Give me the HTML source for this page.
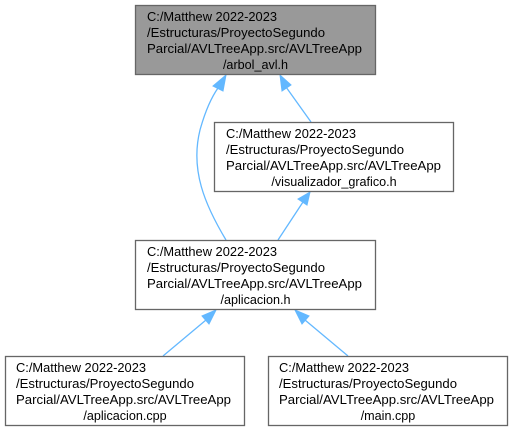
<!DOCTYPE html>
<html><head><meta charset="utf-8"><style>
html,body{margin:0;padding:0;background:#fff;}
svg{display:block;}
text{font-family:"Liberation Sans",Arial,sans-serif;font-size:12.6px;fill:#000;}
</style></head><body>
<svg width="512" height="432" viewBox="0 0 512 432" xmlns="http://www.w3.org/2000/svg">
<g fill="none" stroke="#63b8ff" stroke-width="1.3">
<path d="M226,240 C205,205 190,170 200,130 C205,112 211,98 218,88"/>
<path d="M311,122 L286,87"/>
<path d="M278,240 L303,202"/>
<path d="M163,356 L206,320"/>
<path d="M348,356 L305,320"/>
</g>
<g fill="#63b8ff" stroke="#63b8ff">
<polygon points="226,75 213,86 223,91"/>
<polygon points="280,75 282,91 291,85"/>
<polygon points="310,192 298,199 307,205"/>
<polygon points="216,310 202,316 209,324"/>
<polygon points="295,310 302,324 309,316"/>
</g>
<g stroke="#666" stroke-width="1.3">
<rect x="135.5" y="5.5" width="240" height="69" fill="#999"/>
<rect x="214.5" y="122.5" width="239" height="69" fill="#fff"/>
<rect x="135.5" y="240.5" width="240" height="69" fill="#fff"/>
<rect x="5.5" y="356.5" width="239" height="69" fill="#fff"/>
<rect x="268.5" y="356.5" width="239" height="69" fill="#fff"/>
</g>
<g lengthAdjust="spacingAndGlyphs">
<text x="147" y="21" textLength="130" lengthAdjust="spacingAndGlyphs">C:/Matthew 2022-2023</text>
<text x="147" y="37" textLength="178" lengthAdjust="spacingAndGlyphs">/Estructuras/ProyectoSegundo</text>
<text x="147" y="53" textLength="215" lengthAdjust="spacingAndGlyphs">Parcial/AVLTreeApp.src/AVLTreeApp</text>
<text x="255.5" y="69" text-anchor="middle">/arbol_avl.h</text>

<text x="226" y="138" textLength="130" lengthAdjust="spacingAndGlyphs">C:/Matthew 2022-2023</text>
<text x="226" y="154" textLength="178" lengthAdjust="spacingAndGlyphs">/Estructuras/ProyectoSegundo</text>
<text x="226" y="170" textLength="215" lengthAdjust="spacingAndGlyphs">Parcial/AVLTreeApp.src/AVLTreeApp</text>
<text x="334" y="186" text-anchor="middle">/visualizador_grafico.h</text>

<text x="147" y="256" textLength="130" lengthAdjust="spacingAndGlyphs">C:/Matthew 2022-2023</text>
<text x="147" y="272" textLength="178" lengthAdjust="spacingAndGlyphs">/Estructuras/ProyectoSegundo</text>
<text x="147" y="288" textLength="215" lengthAdjust="spacingAndGlyphs">Parcial/AVLTreeApp.src/AVLTreeApp</text>
<text x="255.5" y="304" text-anchor="middle">/aplicacion.h</text>

<text x="16" y="372" textLength="130" lengthAdjust="spacingAndGlyphs">C:/Matthew 2022-2023</text>
<text x="16" y="388" textLength="178" lengthAdjust="spacingAndGlyphs">/Estructuras/ProyectoSegundo</text>
<text x="16" y="404" textLength="215" lengthAdjust="spacingAndGlyphs">Parcial/AVLTreeApp.src/AVLTreeApp</text>
<text x="125" y="420" text-anchor="middle">/aplicacion.cpp</text>

<text x="279" y="372" textLength="130" lengthAdjust="spacingAndGlyphs">C:/Matthew 2022-2023</text>
<text x="279" y="388" textLength="178" lengthAdjust="spacingAndGlyphs">/Estructuras/ProyectoSegundo</text>
<text x="279" y="404" textLength="215" lengthAdjust="spacingAndGlyphs">Parcial/AVLTreeApp.src/AVLTreeApp</text>
<text x="388" y="420" text-anchor="middle">/main.cpp</text>
</g>
</svg>
</body></html>
